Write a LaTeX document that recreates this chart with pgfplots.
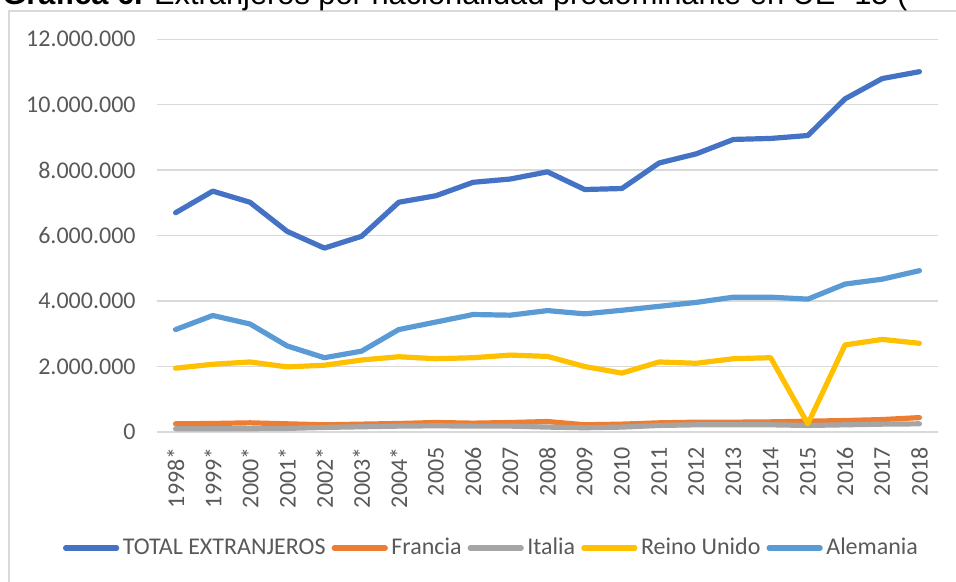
\documentclass[border=0pt]{standalone}
\usepackage{fontspec}
\setmainfont{Carlito}
\newfontfamily\titlefont{Liberation Sans}
\usepackage{pgfplots}
\pgfplotsset{compat=1.18}

\definecolor{cTotal}{HTML}{4472C4}
\definecolor{cFrancia}{HTML}{ED7D31}
\definecolor{cItalia}{HTML}{A5A5A5}
\definecolor{cReino}{HTML}{FFC000}
\definecolor{cAlemania}{HTML}{5B9BD5}
\definecolor{gridgray}{HTML}{D9D9D9}
\definecolor{txtgray}{HTML}{595959}

\begin{document}
\begin{tikzpicture}
\begin{axis}[
  at={(0pt,0pt)}, anchor=south west,
  scale only axis, width=390.5pt, height=196.35pt,
  xmin=-0.5, xmax=20.5, ymin=0, ymax=12000000,
  clip=false,
  axis line style={draw=none}, tick style={draw=none},
  ymajorgrids, grid style={draw=gridgray, line width=0.75pt},
  xtick={0,...,20},
  xticklabels={1998*,1999*,2000*,2001*,2002*,2003*,2004*,2005,2006,2007,2008,2009,2010,2011,2012,2013,2014,2015,2016,2017,2018},
  ytick={0,2000000,4000000,6000000,8000000,10000000,12000000},
  yticklabels={0,2.000.000,4.000.000,6.000.000,8.000.000,10.000.000,12.000.000},
  scaled y ticks=false,
  every tick label/.append style={font=\fontsize{12}{14}\selectfont, text=txtgray, inner sep=0pt},
  xticklabel style={rotate=90, anchor=east},
  yticklabel style={anchor=east},
  xticklabel shift=7.5pt, yticklabel shift=10.5pt,
  every axis plot/.append style={line width=2.6pt, line join=round, line cap=round, no markers},
  legend columns=5,
  legend style={at={(0.427,-0.2954)}, anchor=center, draw=none, fill=none,
    font=\fontsize{12}{14}\selectfont, text=txtgray,
    nodes={inner sep=0pt},
    /tikz/every odd column/.style={column sep=1.8pt},
    /tikz/every even column/.style={column sep=3pt}},
  legend cell align=left,
  legend image code/.code={\draw[line cap=round] (0pt,0pt) -- (25.5pt,0pt);},
]
\addplot[cTotal] coordinates {
  (0,6700000) (1,7360000) (2,7020000) (3,6130000) (4,5620000) (5,5980000)
  (6,7020000) (7,7220000) (8,7630000) (9,7730000) (10,7950000) (11,7410000)
  (12,7440000) (13,8220000) (14,8500000) (15,8940000) (16,8970000) (17,9060000)
  (18,10180000) (19,10800000) (20,11010000)
};
\addlegendentry{TOTAL EXTRANJEROS}
\addplot[cFrancia] coordinates {
  (0,250000) (1,260000) (2,280000) (3,250000) (4,220000) (5,240000)
  (6,260000) (7,290000) (8,270000) (9,290000) (10,320000) (11,220000)
  (12,240000) (13,280000) (14,300000) (15,300000) (16,310000) (17,330000)
  (18,350000) (19,380000) (20,440000)
};
\addlegendentry{Francia}
\addplot[cItalia] coordinates {
  (0,100000) (1,100000) (2,100000) (3,110000) (4,140000) (5,160000)
  (6,180000) (7,190000) (8,180000) (9,180000) (10,150000) (11,130000)
  (12,150000) (13,200000) (14,220000) (15,220000) (16,220000) (17,200000)
  (18,220000) (19,240000) (20,250000)
};
\addlegendentry{Italia}
\addplot[cReino] coordinates {
  (0,1950000) (1,2070000) (2,2140000) (3,1990000) (4,2040000) (5,2200000)
  (6,2300000) (7,2240000) (8,2270000) (9,2350000) (10,2310000) (11,2000000)
  (12,1800000) (13,2140000) (14,2100000) (15,2240000) (16,2270000) (17,250000)
  (18,2660000) (19,2830000) (20,2710000)
};
\addlegendentry{Reino Unido}
\addplot[cAlemania] coordinates {
  (0,3130000) (1,3560000) (2,3300000) (3,2630000) (4,2270000) (5,2470000)
  (6,3130000) (7,3360000) (8,3590000) (9,3570000) (10,3710000) (11,3610000)
  (12,3720000) (13,3840000) (14,3960000) (15,4120000) (16,4120000) (17,4060000)
  (18,4520000) (19,4670000) (20,4930000)
};
\addlegendentry{Alemania}
\end{axis}
\draw[gridgray, line width=0.75pt] (-74pt,-84pt) rectangle (411.5pt,210.5pt);
\node[anchor=base west, inner sep=0pt, font=\titlefont\fontsize{15.4}{17}\selectfont]
  at (-77.5pt,213.75pt) {\textbf{Gráfica 6.} Extranjeros por nacionalidad predominante en UE -15 (};
\pgfresetboundingbox
\useasboundingbox (-78.5pt,-75pt) rectangle (399.5pt,216pt);
\end{tikzpicture}
\end{document}
